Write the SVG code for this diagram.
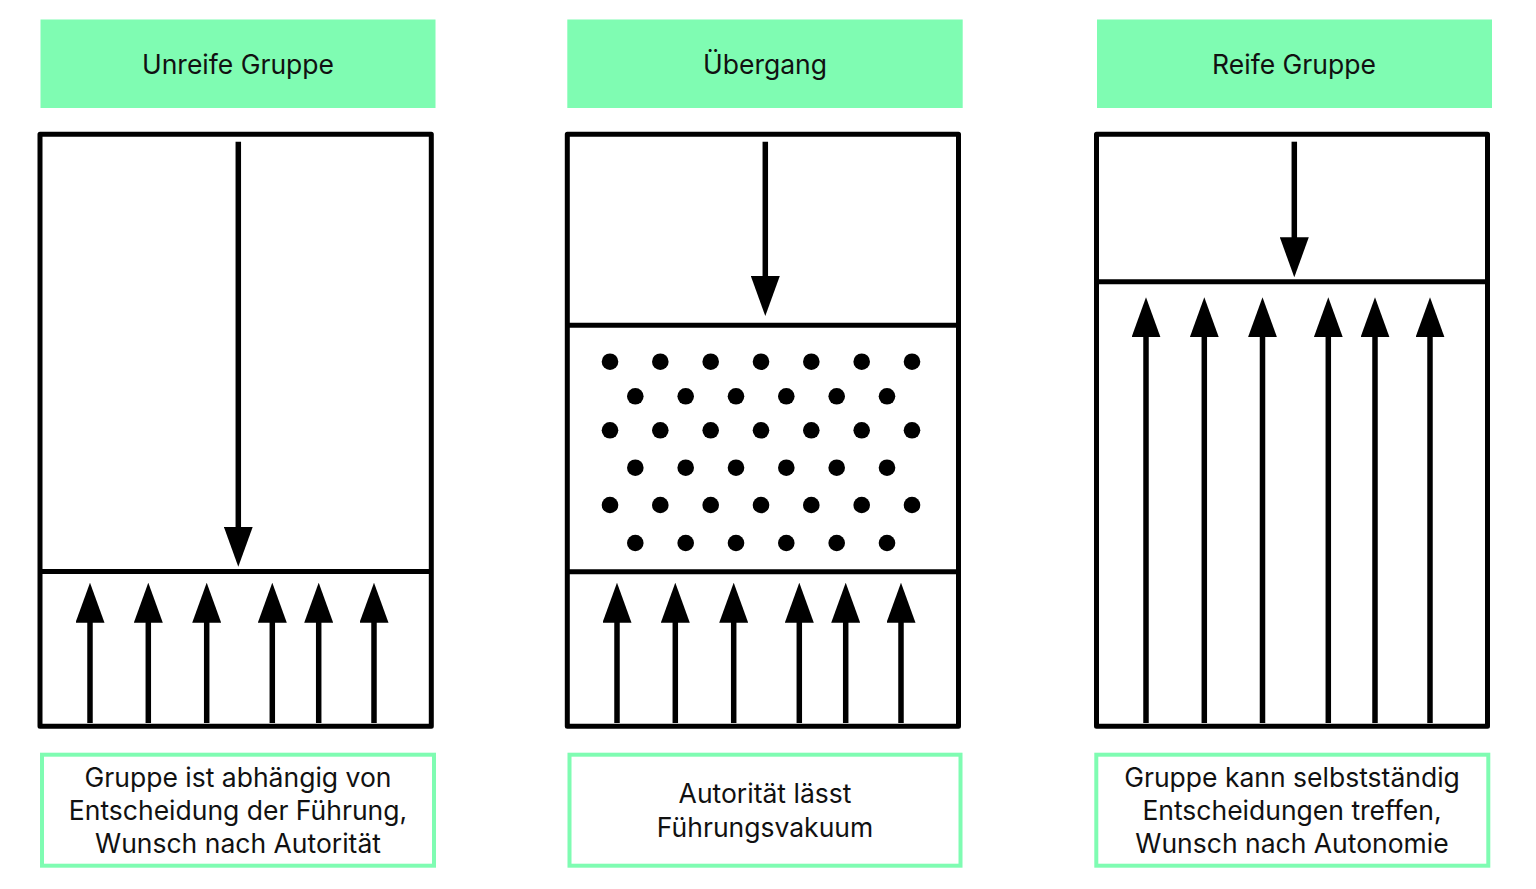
<svg xmlns="http://www.w3.org/2000/svg" width="1536" height="889" viewBox="0 0 1536 889">
<defs>
<style>
.hdr{fill:#7ffcb2}
.frame{fill:#fff;stroke:#000;stroke-width:5;stroke-linejoin:round}
.div{stroke:#000;stroke-width:5}
.cap{fill:#fff;stroke:#7ffcb2;stroke-width:4}
.arr{stroke:#000;stroke-width:5.5;fill:none;marker-end:url(#ah)}
.t{font-family:Inter,"Noto Sans","Liberation Sans",sans-serif;font-size:26.5px;fill:#111;text-anchor:middle}
.th{font-family:Inter,"Noto Sans","Liberation Sans",sans-serif;font-size:26.5px;fill:#111;text-anchor:middle}
.dot{fill:#000}
</style>
<marker id="ah" viewBox="0 0 40 29" refX="5" refY="14.5" markerWidth="40" markerHeight="29" markerUnits="userSpaceOnUse" orient="auto">
<path d="M0,0 L40,14.5 L0,29 Z" fill="#000"/>
</marker>
</defs>
<rect width="1536" height="889" fill="#fff"/>

<g id="panel1">
<rect class="hdr" x="40.5" y="19.5" width="395" height="88.5"/>
<text class="th" x="238" y="74">Unreife Gruppe</text>
<rect class="frame" x="40" y="134.2" width="391.3" height="592"/>
<line class="div" x1="40" y1="571.5" x2="431.3" y2="571.5"/>
<rect class="cap" x="42" y="754.7" width="392" height="111"/>
<text class="t" x="238" y="786.7">Gruppe ist abhängig von</text>
<text class="t" x="238" y="820">Entscheidung der Führung,</text>
<text class="t" x="238" y="852.7">Wunsch nach Autorität</text>
</g>

<g id="panel2">
<rect class="hdr" x="567.3" y="19.5" width="395.4" height="88.5"/>
<text class="th" x="765" y="74">Übergang</text>
<rect class="frame" x="567.3" y="134.2" width="391.2" height="592"/>
<line class="div" x1="567.3" y1="325.3" x2="958.5" y2="325.3"/>
<line class="div" x1="567.3" y1="571.7" x2="958.5" y2="571.7"/>
<g id="dots">
<g class="dot">
<circle cx="610" cy="361.7" r="8.3"/><circle cx="660.3" cy="361.7" r="8.3"/><circle cx="710.7" cy="361.7" r="8.3"/><circle cx="761" cy="361.7" r="8.3"/><circle cx="811.3" cy="361.7" r="8.3"/><circle cx="861.7" cy="361.7" r="8.3"/><circle cx="912" cy="361.7" r="8.3"/>
<circle cx="635.3" cy="396.3" r="8.3"/><circle cx="685.7" cy="396.3" r="8.3"/><circle cx="736" cy="396.3" r="8.3"/><circle cx="786.3" cy="396.3" r="8.3"/><circle cx="836.7" cy="396.3" r="8.3"/><circle cx="887" cy="396.3" r="8.3"/>
<circle cx="610" cy="430.3" r="8.3"/><circle cx="660.3" cy="430.3" r="8.3"/><circle cx="710.7" cy="430.3" r="8.3"/><circle cx="761" cy="430.3" r="8.3"/><circle cx="811.3" cy="430.3" r="8.3"/><circle cx="861.7" cy="430.3" r="8.3"/><circle cx="912" cy="430.3" r="8.3"/>
<circle cx="635.3" cy="467.7" r="8.3"/><circle cx="685.7" cy="467.7" r="8.3"/><circle cx="736" cy="467.7" r="8.3"/><circle cx="786.3" cy="467.7" r="8.3"/><circle cx="836.7" cy="467.7" r="8.3"/><circle cx="887" cy="467.7" r="8.3"/>
<circle cx="610" cy="505" r="8.3"/><circle cx="660.3" cy="505" r="8.3"/><circle cx="710.7" cy="505" r="8.3"/><circle cx="761" cy="505" r="8.3"/><circle cx="811.3" cy="505" r="8.3"/><circle cx="861.7" cy="505" r="8.3"/><circle cx="912" cy="505" r="8.3"/>
<circle cx="635.3" cy="543" r="8.3"/><circle cx="685.7" cy="543" r="8.3"/><circle cx="736" cy="543" r="8.3"/><circle cx="786.3" cy="543" r="8.3"/><circle cx="836.7" cy="543" r="8.3"/><circle cx="887" cy="543" r="8.3"/>
</g>
</g>
<rect class="cap" x="569.5" y="754.7" width="391" height="111"/>
<text class="t" x="765" y="803.3">Autorität lässt</text>
<text class="t" x="765" y="836.7">Führungsvakuum</text>
</g>

<g id="panel3">
<rect class="hdr" x="1097" y="19.5" width="395" height="88.5"/>
<text class="th" x="1294" y="74">Reife Gruppe</text>
<rect class="frame" x="1096.5" y="134.2" width="391" height="592"/>
<line class="div" x1="1096.5" y1="281.7" x2="1487.5" y2="281.7"/>
<rect class="cap" x="1096.3" y="754.7" width="392" height="111"/>
<text class="t" x="1292" y="786.7">Gruppe kann selbstständig</text>
<text class="t" x="1292" y="820">Entscheidungen treffen,</text>
<text class="t" x="1292" y="852.7">Wunsch nach Autonomie</text>
</g>

<g id="connectors">
<line class="arr" x1="238.3" y1="141.7" x2="238.3" y2="531.7"/>
<line class="arr" x1="90" y1="723" x2="90" y2="617.7"/>
<line class="arr" x1="148.3" y1="723" x2="148.3" y2="617.7"/>
<line class="arr" x1="206.7" y1="723" x2="206.7" y2="617.7"/>
<line class="arr" x1="272.3" y1="723" x2="272.3" y2="617.7"/>
<line class="arr" x1="318.7" y1="723" x2="318.7" y2="617.7"/>
<line class="arr" x1="374" y1="723" x2="374" y2="617.7"/>

<line class="arr" x1="765.3" y1="141.7" x2="765.3" y2="281"/>
<line class="arr" x1="617" y1="723" x2="617" y2="617.7"/>
<line class="arr" x1="675.3" y1="723" x2="675.3" y2="617.7"/>
<line class="arr" x1="733.7" y1="723" x2="733.7" y2="617.7"/>
<line class="arr" x1="799.3" y1="723" x2="799.3" y2="617.7"/>
<line class="arr" x1="845.7" y1="723" x2="845.7" y2="617.7"/>
<line class="arr" x1="901" y1="723" x2="901" y2="617.7"/>

<line class="arr" x1="1294.3" y1="141.7" x2="1294.3" y2="242.3"/>
<line class="arr" x1="1146" y1="723" x2="1146" y2="332.3"/>
<line class="arr" x1="1204.3" y1="723" x2="1204.3" y2="332.3"/>
<line class="arr" x1="1262.5" y1="723" x2="1262.5" y2="332.3"/>
<line class="arr" x1="1328.3" y1="723" x2="1328.3" y2="332.3"/>
<line class="arr" x1="1375" y1="723" x2="1375" y2="332.3"/>
<line class="arr" x1="1430" y1="723" x2="1430" y2="332.3"/>
</g>
</svg>
